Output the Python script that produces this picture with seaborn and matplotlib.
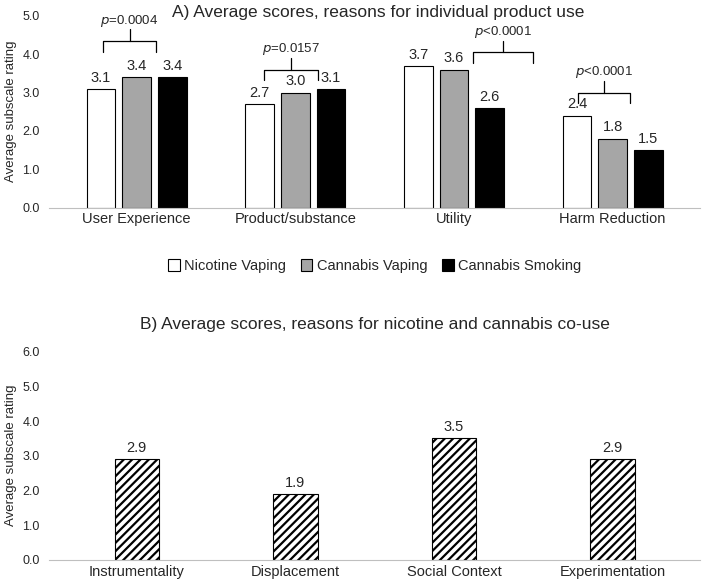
import numpy as np
import pandas as pd
import matplotlib.pyplot as plt
import seaborn as sns

sns.set_style("white")
plt.rcParams['font.family'] = ['Liberation Sans', 'DejaVu Sans']
plt.rcParams['hatch.linewidth'] = 1.6

# Panel A data
reasons = ['User Experience', 'Product/substance', 'Utility', 'Harm Reduction']
products = ['Nicotine Vaping', 'Cannabis Vaping', 'Cannabis Smoking']
nicotine_vaping = [3.1, 2.7, 3.7, 2.4]
cannabis_vaping = [3.4, 3.0, 3.6, 1.8]
cannabis_smoking = [3.4, 3.1, 2.6, 1.5]
p_values = ['=0.0004', '=0.0157', '<0.0001', '<0.0001']

# Panel B data
couse = ['Instrumentality', 'Displacement', 'Social Context', 'Experimentation']
couse_scores = [2.9, 1.9, 3.5, 2.9]

df_a = pd.DataFrame({
    'reason': reasons * 3,
    'product': [p for p in products for _ in reasons],
    'score': nicotine_vaping + cannabis_vaping + cannabis_smoking,
})
df_b = pd.DataFrame({'reason': couse, 'score': couse_scores})

fig = plt.figure(figsize=(7.07, 5.88), dpi=100)
ax1 = fig.add_axes([0.07, 0.647, 0.92, 0.326])
ax2 = fig.add_axes([0.07, 0.048, 0.92, 0.354])

sns.barplot(data=df_a, x='reason', y='score', hue='product', ax=ax1,
            palette=['white', '#a6a6a6', 'black'], edgecolor='black',
            linewidth=0.8, width=0.675, gap=0.2)
for c in ax1.containers:
    ax1.bar_label(c, fmt='%.1f', padding=3, fontsize=10.5)

ax1.set_ylim(0, 5)
ax1.set_yticks(np.arange(0, 5.01, 1))
ax1.set_yticklabels([f'{v:.1f}' for v in np.arange(0, 5.01, 1)], fontsize=9)
ax1.set_xlim(-0.55, 3.55)
ax1.set_xlabel('')
ax1.set_ylabel('Average subscale rating', fontsize=9.5)
ax1.tick_params(axis='x', labelsize=10.5, length=0)
fig.text(0.5 + 0.035, 1 - 12 / 588, 'A) Average scores, reasons for individual product use',
         ha='center', va='center', fontsize=12.5)
for s in ['top', 'right', 'left']:
    ax1.spines[s].set_visible(False)
ax1.spines['bottom'].set_color('#bfbfbf')
ax1.legend(loc='upper center', bbox_to_anchor=(0.5, -0.2), ncol=3, frameon=False,
           fontsize=10.5, handlelength=0.8, handleheight=0.8, handletextpad=0.3,
           columnspacing=1.0)

# significance brackets: (left offset, right offset, top of bracket)
brackets = [(-0.21, 0.12, 4.35), (-0.2, 0.14, 3.6), (0.12, 0.5, 4.05), (-0.22, 0.11, 3.0)]
for i, (l, r, y) in enumerate(brackets):
    x0, x1 = i + l, i + r
    ax1.plot([x0, x0, x1, x1], [y - 0.28, y, y, y - 0.28], color='black', lw=0.9)
    ax1.plot([(x0 + x1) / 2] * 2, [y, y + 0.3], color='black', lw=0.9)
    ax1.text((x0 + x1) / 2, y + 0.32, f'$p${p_values[i]}', ha='center', va='bottom',
             fontsize=9.5)

sns.barplot(data=df_b, x='reason', y='score', ax=ax2, color='white',
            edgecolor='black', linewidth=0.8, width=0.28, hatch='////')
ax2.bar_label(ax2.containers[0], fmt='%.1f', padding=3, fontsize=10.5)
ax2.set_ylim(0, 6)
ax2.set_yticks(np.arange(0, 6.01, 1))
ax2.set_yticklabels([f'{v:.1f}' for v in np.arange(0, 6.01, 1)], fontsize=9)
ax2.set_xlim(-0.55, 3.55)
ax2.set_xlabel('')
ax2.set_ylabel('Average subscale rating', fontsize=9.5)
ax2.tick_params(axis='x', labelsize=10.5, length=0)
ax2.set_title('B) Average scores, reasons for nicotine and cannabis co-use', fontsize=12.5, pad=16)
for s in ['top', 'right', 'left']:
    ax2.spines[s].set_visible(False)
ax2.spines['bottom'].set_color('#bfbfbf')

fig.savefig('out.png', dpi=100)
